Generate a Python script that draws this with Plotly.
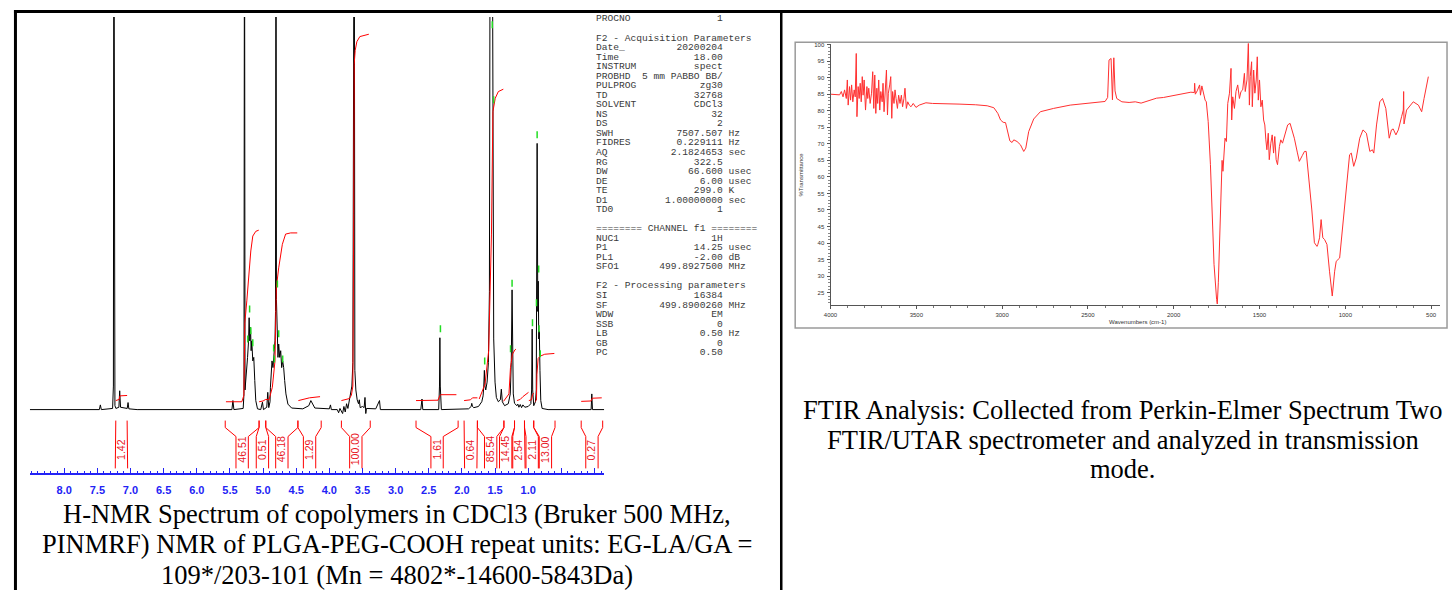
import plotly.graph_objects as go

W, H = 1452, 590

# ---------------- 1H NMR spectrum (ppm, relative intensity; 100 = top of frame) ----------------
nmr_ppm = [8.52, 7.47, 7.455, 7.44, 7.27, 7.258, 7.251, 7.245, 7.235, 7.22, 7.175, 7.163, 7.15,
           7.05, 7.037, 7.025, 6.9, 5.47, 5.455, 5.44, 5.30, 5.288, 5.28, 5.272, 5.262, 5.249,
           5.234, 5.219, 5.21, 5.2, 5.189, 5.18, 5.17, 5.155, 5.14, 5.125, 5.11, 5.084, 5.035,
           5.009, 4.994, 4.944, 4.929, 4.914, 4.895, 4.889, 4.88, 4.865, 4.85, 4.835, 4.82, 4.812,
           4.805, 4.798, 4.79, 4.775, 4.764, 4.749, 4.734, 4.719, 4.704, 4.689, 4.674, 4.655,
           4.625, 4.569, 4.40, 4.31, 4.279, 4.258, 4.219, 4.0, 3.983, 3.97, 3.88, 3.86, 3.84,
           3.80, 3.78, 3.76, 3.74, 3.72, 3.70, 3.68, 3.66, 3.645, 3.635, 3.625, 3.615, 3.60,
           3.58, 3.56, 3.548, 3.535, 3.50, 3.475, 3.462, 3.45, 3.44, 3.30, 3.243, 3.23, 2.62,
           2.602, 2.59, 2.35, 2.338, 2.332, 2.326, 2.31, 1.90, 1.86, 1.851, 1.84, 1.82, 1.75,
           1.70, 1.68, 1.67, 1.661, 1.652, 1.64, 1.62, 1.60, 1.585, 1.572, 1.545, 1.535, 1.52,
           1.50, 1.48, 1.45, 1.42, 1.405, 1.39, 1.356, 1.30, 1.27, 1.255, 1.243, 1.236, 1.225,
           1.206, 1.17, 1.156, 1.14, 1.12, 1.10, 1.08, 1.05, 1.00, 0.96, 0.948, 0.94, 0.932,
           0.916, 0.89, 0.878, 0.865, 0.855, 0.848, 0.84, 0.832, 0.822, 0.81, 0.79, 0.7, 0.05,
           0.04, 0.03, -0.15]
nmr_int = [0, 0, 1.2, 0, 0.3, 6, 150, 6, 1, 0.3, 0.6, 4.8, 0.6,
           0.3, 1.8, 0.2, 0, 0, 2.3, 0, 0.3, 4, 150, 5, 7, 9.1,
           13.3, 17.5, 23.4, 17.5, 20.9, 15, 17.5, 12.4, 13.3, 7.4, 2.3, 0.2, 0,
           1.9, 0, 0.6, 4.4, 0.5, 2, 5.7, 9.1, 12.4, 10.7, 15, 17.5, 25,
           150, 28, 19.2, 13.3, 16.7, 13.3, 15, 10.7, 12.4, 10.7, 7.4, 4,
           1.4, 0.4, 0.2, 1, 2.3, 1.7, 0.4, 0.2, 1.2, 0, 0, -0.8, 0.3,
           -1, 0.8, -0.6, 1.5, 0.3, 2.5, 3.5, 6, 12, 150, 150, 10, 5,
           2.5, 1.5, 2.5, 0.5, 0.8, 0.5, 3.1, -1, 0.3, 0.2, 2.3, 0, 0,
           2.7, 0, 0, 6, 18.3, 6, 0, 0.2, 0.8, 1.6, 0.8, 0.5, 0.8,
           2, 3.5, 6, 10, 6, 5, 7, 12, 30, 150, 150, 60, 18,
           7, 3.1, 2, 2.5, 5.2, 2, 1, 1.5, 4, 12, 30.5, 14, 4,
           1.6, 1, 1.4, 0.6, 1.3, 0.5, 1.2, 0.6, 0.8, 1.5, 5, 20.5, 5,
           1, 2, 5, 67.8, 25, 32.7, 18, 20, 9.9, 2.3, 0.3, 0, 0,
           4, 0, 0]

# peak-picking marks (green)
green_ppm = [5.203, 5.185, 5.23, 5.155, 4.84, 4.83, 4.764, 4.784, 4.704, 2.324, 1.656, 1.542,
             1.521, 1.243, 1.266, 0.935, 0.865, 0.842, 0.875, 0.836, 0.818]
green_int = [25.6, 20.1, 18.0, 17.0, 15.7, 12.9, 19.3, 32.0, 12.9, 20.6, 12.4, 98,
             78.9, 32.2, 15.5, 22.1, 70, 35.8, 27.2, 20.6, 14.2]

# integrals
integral_values = ["1.42", "46.51", "0.51", "46.18", "1.29", "100.00", "1.61", "0.64",
                   "85.54", "14.45", "2.54", "2.11", "13.00", "0.27"]
integral_from = [7.222, 5.571, 5.060, 4.959, 4.474, 3.818, 2.692, 1.967, 1.766, 1.366,
                 1.206, 1.056, 0.916, 0.200]
integral_to = [7.051, 5.060, 4.959, 4.474, 4.123, 3.383, 2.057, 1.766, 1.366, 1.206,
               1.056, 0.916, 0.595, -0.124]
integral_curve_ppm = [
    [7.222, 7.17, 7.16, 7.051],
    [5.56, 5.32, 5.29, 5.275, 5.245, 5.185, 5.155, 5.11, 5.065],
    [5.06, 5.0, 4.96],
    [4.96, 4.91, 4.86, 4.82, 4.80, 4.764, 4.709, 4.66, 4.584, 4.484],
    [4.467, 4.30, 4.14],
    [3.818, 3.70, 3.668, 3.645, 3.632, 3.625, 3.61, 3.585, 3.54, 3.404],
    [2.692, 2.36, 2.335, 2.32, 2.083],
    [1.967, 1.87, 1.84, 1.766],
    [1.739, 1.651, 1.596, 1.554, 1.532, 1.497, 1.45, 1.375],
    [1.372, 1.29, 1.267, 1.238, 1.20, 1.185],
    [1.17, 1.12, 1.08, 1.03, 0.995],
    [0.99, 0.95, 0.935, 0.916],
    [0.90, 0.875, 0.868, 0.862, 0.85, 0.82, 0.75, 0.605],
    [0.20, 0.05, 0.035, -0.11],
]
integral_curve_val = [
    [2.3, 2.6, 3.5, 3.6],
    [2.0, 2.0, 3.6, 22.1, 27.7, 40.4, 44.2, 45.4, 45.7],
    [2.0, 2.2, 2.6],
    [2.6, 2.5, 5.7, 12.4, 31, 36.1, 42.1, 44.7, 45, 45],
    [2.3, 3.0, 3.3],
    [2.3, 2.8, 3.6, 6, 50, 88, 91.5, 93.7, 95, 95.6],
    [2.3, 2.4, 3.5, 3.8, 3.8],
    [2.3, 2.5, 3.0, 3.0],
    [2.7, 6.5, 15, 44.7, 75.9, 79.3, 81, 81.6],
    [2.1, 4, 10.7, 14.1, 15.2, 15.4],
    [2.3, 2.6, 3.3, 4.1, 4.4],
    [2.3, 2.5, 3.8, 4.2],
    [2.0, 2.4, 9, 12, 13, 13.6, 14.1, 14.3],
    [2.1, 2.2, 2.9, 3.0],
]

nmr_tick_vals = [8.0, 7.5, 7.0, 6.5, 6.0, 5.5, 5.0, 4.5, 4.0, 3.5, 3.0, 2.5, 2.0, 1.5, 1.0, 0.5, 0.0]
nmr_tick_text = ["8.0", "7.5", "7.0", "6.5", "6.0", "5.5", "5.0", "4.5", "4.0", "3.5", "3.0",
                 "2.5", "2.0", "1.5", "1.0", "", ""]

# acquisition / processing parameter block
param_lines = [
    ("PROCNO", "1", ""), None,
    ("F2 - Acquisition Parameters",), ("Date_", "20200204", ""), ("Time", "18.00", ""),
    ("INSTRUM", "spect", ""), ("PROBHD", "5 mm PABBO BB/", ""), ("PULPROG", "zg30", ""),
    ("TD", "32768", ""), ("SOLVENT", "CDCl3", ""), ("NS", "32", ""), ("DS", "2", ""),
    ("SWH", "7507.507", "Hz"), ("FIDRES", "0.229111", "Hz"), ("AQ", "2.1824653", "sec"),
    ("RG", "322.5", ""), ("DW", "66.600", "usec"), ("DE", "6.00", "usec"),
    ("TE", "299.0", "K"), ("D1", "1.00000000", "sec"), ("TD0", "1", ""), None,
    ("======== CHANNEL f1 ========",), ("NUC1", "1H", ""), ("P1", "14.25", "usec"),
    ("PL1", "-2.00", "dB"), ("SFO1", "499.8927500", "MHz"), None,
    ("F2 - Processing parameters",), ("SI", "16384", ""), ("SF", "499.8900260", "MHz"),
    ("WDW", "EM", ""), ("SSB", "0", ""), ("LB", "0.50", "Hz"), ("GB", "0", ""), ("PC", "0.50", ""),
]

# ---------------- FTIR spectrum (wavenumber cm-1, %T) ----------------
ftir_wn = [4000, 3966, 3947, 3937, 3927, 3918, 3908, 3902, 3897, 3889, 3883, 3877, 3870, 3862,
           3856, 3850, 3846, 3839, 3833, 3827, 3821, 3815, 3810, 3804, 3796, 3788, 3783, 3777,
           3769, 3761, 3754, 3748, 3742, 3736, 3730, 3725, 3719, 3713, 3707, 3699, 3694, 3688,
           3682, 3674, 3668, 3663, 3655, 3649, 3643, 3638, 3630, 3624, 3618, 3610, 3603, 3595,
           3587, 3580, 3572, 3566, 3558, 3550, 3541, 3531, 3518, 3502, 3483, 3464, 3444, 3406,
           3348, 3251, 3154, 3087, 3048, 3025, 3009, 2994, 2980, 2971, 2955, 2942, 2932, 2913,
           2893, 2874, 2862, 2845, 2816, 2777, 2700, 2603, 2420, 2400, 2385, 2377, 2365, 2357,
           2349, 2342, 2332, 2302, 2260, 2224, 2190, 2176, 2150, 2127, 2100, 2060, 2029, 2000,
           1960, 1931, 1900, 1880, 1878, 1874, 1863, 1849, 1844, 1836, 1824, 1817, 1810, 1799,
           1786, 1765, 1750, 1746, 1740, 1732, 1721, 1718, 1713, 1706, 1701, 1693, 1687, 1685,
           1675, 1666, 1662, 1656, 1646, 1637, 1627, 1617, 1608, 1598, 1588, 1583, 1573, 1565,
           1559, 1554, 1546, 1542, 1534, 1527, 1519, 1513, 1507, 1500, 1492, 1484, 1476, 1469,
           1463, 1457, 1449, 1443, 1434, 1426, 1418, 1411, 1403, 1395, 1384, 1376, 1366, 1350,
           1336, 1322, 1310, 1297, 1280, 1268, 1250, 1238, 1228, 1209, 1195, 1180, 1165, 1160,
           1150, 1141, 1131, 1121, 1107, 1092, 1076, 1062, 1053, 1033, 1018, 998, 975, 965, 951,
           936, 916, 897, 877, 857, 842, 834, 818, 799, 783, 764, 744, 731, 721, 705, 691, 672,
           662, 660, 658, 643, 604, 574, 555, 541, 516]
ftir_t = [85, 85, 84.8, 85.8, 84.2, 86.3, 83.7, 89.3, 81.7, 87.3, 83.2, 87.8, 82.7, 86.3,
          84.2, 97.3, 78.2, 87.3, 83.7, 88.3, 82.7, 90.3, 84.7, 89.3, 80.2, 87.3, 83.7, 86.8,
          82.2, 85.3, 91.8, 80.7, 90.8, 79.2, 86.8, 82.2, 89.3, 80.2, 85.8, 82.7, 88.3, 79.7,
          86.3, 92.3, 78.7, 85.3, 87.8, 90.3, 77.7, 85.8, 82.2, 86.3, 83.7, 80.7, 84.7, 82.2,
          84.7, 81.2, 83.7, 86.8, 80.7, 82.7, 81.7, 81.2, 82.2, 81, 81.7, 82, 82.4, 82.2,
          82.2, 82, 81.8, 81.5, 80.9, 79.2, 77.2, 76.5, 76.4, 74.7, 70.9, 70.4, 71.2, 70.7,
          69.7, 67.7, 68.7, 73.7, 77.5, 79.7, 80.7, 81.7, 82.5, 82.8, 84, 95.3, 95.8, 83.3,
          96, 86, 83.7, 82.7, 82.5, 82.7, 82.3, 82.5, 83, 83.2, 83.8, 84, 84.3, 84.6,
          85, 85.3, 85.6, 85.5, 88.3, 85, 86, 87.8, 84.7, 87.5, 84.2, 83.2, 82.7, 76.7,
          63.7, 33.6, 23, 21.6, 28, 43.6, 60.7, 65, 61.7, 70.5, 71.7, 70.7, 80.7, 82.2,
          85.3, 92.8, 77.2, 84.2, 80.7, 85.8, 87.8, 83.7, 85.8, 86.3, 91.3, 85.8, 89.3, 100.5,
          81.7, 90.3, 94.8, 81.2, 92.3, 85.3, 89.3, 96.3, 83.2, 89.3, 81.2, 83.2, 77.2, 75.7,
          71.2, 68.2, 73.2, 65.2, 70.2, 72.7, 67.2, 72.2, 65.2, 63.7, 69.2, 71.2, 70.2, 73,
          75.7, 76.2, 74, 71.7, 67.5, 64.7, 66.5, 67.7, 67.7, 58.6, 50, 40.1, 39, 39.6,
          41.6, 47.1, 41.6, 41.1, 39.6, 31.5, 24, 31.5, 34.5, 35.5, 43.6, 55.6, 66.7, 67.2, 63.2,
          65.7, 71.7, 74.2, 73.2, 67.7, 68.2, 67.2, 75.7, 82.7, 83.7, 80.7, 71.7, 74.2, 74.5, 72.7, 74.2, 78.2,
          80.2, 85.8, 76, 80.2, 82.7, 81.7, 79.7, 83.7, 90.3]
ftir_y_ticks = [25, 30, 35, 40, 45, 50, 55, 60, 65, 70, 75, 80, 85, 90, 95, 100]
ftir_x_ticks = [4000, 3500, 3000, 2500, 2000, 1500, 1000, 500]

nmr_caption = ["H-NMR Spectrum of copolymers in CDCl3 (Bruker 500 MHz,",
               "PINMRF) NMR of PLGA-PEG-COOH repeat units: EG-LA/GA =",
               "109*/203-101 (Mn = 4802*-14600-5843Da)"]
ftir_caption = ["FTIR Analysis: Collected from Perkin-Elmer Spectrum Two",
                "FTIR/UTAR spectrometer and analyzed in transmission",
                "mode."]


# ---------------- layout helpers ----------------
def px(x):
    return x / W


def py(y):
    return 1 - y / H


PPM_PER_PX = 1 / 66.6
NMR_Y_PER_PX = 100 / 394.0


def nmr_y(ypx):
    # pixel row -> intensity units (baseline row 409)
    return (409 - ypx) * NMR_Y_PER_PX


fig = go.Figure()

RED = "#ff0000"
BLUE = "#2323f5"

# NMR spectrum
fig.add_trace(go.Scatter(x=nmr_ppm, y=nmr_int, mode="lines",
                         line=dict(color="black", width=1), xaxis="x", yaxis="y",
                         hoverinfo="skip", showlegend=False))

# integral curves
ix, iy = [], []
for cp, cv in zip(integral_curve_ppm, integral_curve_val):
    ix += cp + [None]
    iy += cv + [None]
fig.add_trace(go.Scatter(x=ix, y=iy, mode="lines", line=dict(color=RED, width=1),
                         xaxis="x", yaxis="y", hoverinfo="skip", showlegend=False))

# green peak marks
fig.add_trace(go.Scatter(x=green_ppm, y=green_int, mode="markers",
                         marker=dict(symbol="line-ns", size=5, line=dict(color="#22dd22", width=1.5)),
                         xaxis="x", yaxis="y", hoverinfo="skip", showlegend=False))

# integral label positions (spread apart where crowded)
centers = [(a + b) / 2 for a, b in zip(integral_from, integral_to)]
min_sep = 13.3 * PPM_PER_PX
for _ in range(200):
    for i in range(len(centers) - 1):
        d = centers[i] - centers[i + 1]
        if d < min_sep:
            s = (min_sep - d) / 2
            centers[i] += s
            centers[i + 1] -= s

hw = 6.2 * PPM_PER_PX
y_top, y_k1, y_k2, y_bot = nmr_y(420), nmr_y(427), nmr_y(436), nmr_y(468)
bx, by = [], []
for a, b, c in zip(integral_from, integral_to, centers):
    bx += [a, a, c + hw, c + hw, None, b, b, c - hw, c - hw, None]
    by += [y_top, y_k1, y_k2, y_bot, None, y_top, y_k1, y_k2, y_bot, None]
fig.add_trace(go.Scatter(x=bx, y=by, mode="lines", line=dict(color=RED, width=1),
                         xaxis="x", yaxis="y", hoverinfo="skip", showlegend=False))

annotations = []
for val, c in zip(integral_values, centers):
    annotations.append(dict(x=c, y=nmr_y(449), xref="x", yref="y", text=val, showarrow=False,
                            textangle=-90, font=dict(family="Arial", size=10.5, color="#e8141e"),
                            xanchor="center", yanchor="middle"))

annotations.append(dict(x=0.08, y=nmr_y(492), xref="x", yref="y", text="ppm", showarrow=False,
                        font=dict(family="Arial", size=11, color=BLUE, weight="bold"),
                        xanchor="center", yanchor="middle"))

# FTIR spectrum
fig.add_trace(go.Scatter(x=ftir_wn, y=ftir_t, mode="lines", line=dict(color="#ff3030", width=1),
                         xaxis="x2", yaxis="y2", hoverinfo="skip", showlegend=False))

# parameter block
for i, item in enumerate(param_lines):
    if item is None:
        continue
    if len(item) == 1:
        txt = item[0]
    else:
        name, value, unit = item
        txt = name.ljust(8) + value.rjust(14) + ((" " + unit) if unit else "")
    annotations.append(dict(x=px(590), y=py(17 + i * 9.57), xref="paper", yref="paper",
                            text=txt.replace(" ", "&nbsp;"), showarrow=False, xanchor="left",
                            yanchor="middle", font=dict(family="Liberation Mono", size=9.6, color="#3a3a3a")))

# captions
nmr_caption_rows = [513.5, 544, 574.5]
for line, row in zip(nmr_caption, nmr_caption_rows):
    annotations.append(dict(x=px(392), y=py(row), xref="paper", yref="paper", text=line,
                            showarrow=False, xanchor="center", yanchor="middle", borderpad=0,
                            font=dict(family="Liberation Serif", size=26.5, color="black")))
for i, line in enumerate(ftir_caption):
    annotations.append(dict(x=px(1121), y=py(409 + i * 30), xref="paper", yref="paper", text=line,
                            showarrow=False, xanchor="center", yanchor="middle", borderpad=0,
                            font=dict(family="Liberation Serif", size=26.5, color="black")))

# FTIR axis titles
annotations.append(dict(x=px(798), y=py(173), xref="paper", yref="paper", text="%Transmittance",
                        showarrow=False, textangle=-90, font=dict(family="Arial", size=6, color="#333"),
                        xanchor="center", yanchor="middle"))
annotations.append(dict(x=px(1136), y=py(321), xref="paper", yref="paper", text="Wavenumbers (cm-1)",
                        showarrow=False, font=dict(family="Arial", size=6, color="#333"),
                        xanchor="center", yanchor="middle"))

shapes = [
    # table borders
    dict(type="line", xref="paper", yref="paper", x0=px(7), x1=px(1452), y0=py(9.5), y1=py(9.5),
         line=dict(color="black", width=3)),
    dict(type="line", xref="paper", yref="paper", x0=px(8.5), x1=px(8.5), y0=py(8), y1=py(592),
         line=dict(color="black", width=3)),
    dict(type="line", xref="paper", yref="paper", x0=px(778), x1=px(778), y0=py(8), y1=py(592),
         line=dict(color="black", width=2.5)),
    # FTIR outer frame
    dict(type="rect", xref="paper", yref="paper", x0=px(792), x1=px(1447), y0=py(327), y1=py(40.5),
         line=dict(color="#9a9a9a", width=1.5)),
]

fig.update_layout(
    width=W, height=H, autosize=False,
    margin=dict(l=0, r=0, t=0, b=0),
    paper_bgcolor="white", plot_bgcolor="rgba(0,0,0,0)",
    showlegend=False,
    annotations=annotations, shapes=shapes,
    xaxis=dict(domain=[px(23), px(600)], range=[8.518, -0.1456], anchor="y",
               showline=True, linecolor=BLUE, linewidth=1.5, showgrid=False, zeroline=False,
               tickmode="array", tickvals=nmr_tick_vals, ticktext=nmr_tick_text,
               ticks="inside", ticklen=6, tickwidth=1.2, tickcolor=BLUE,
               minor=dict(dtick=0.1, ticks="inside", ticklen=3, tickcolor=BLUE, tickwidth=1),
               tickfont=dict(family="Arial", size=11, color=BLUE, weight="bold"),
               ticklabelstandoff=6),
    yaxis=dict(domain=[py(473), py(15)], range=[nmr_y(473), 100], anchor="x", visible=False),
    xaxis2=dict(domain=[px(827.5), px(1440)], range=[4000, 447.8], anchor="y2",
                showline=True, linecolor="#555", linewidth=1, showgrid=False, zeroline=False,
                tickmode="array", tickvals=ftir_x_ticks, ticks="outside", ticklen=3, tickcolor="#555",
                minor=dict(dtick=100, ticks="outside", ticklen=2, tickcolor="#777"),
                tickfont=dict(family="Arial", size=6, color="#333"), ticklabelstandoff=1),
    yaxis2=dict(domain=[py(304), py(41.7)], range=[21.3, 100.3], anchor="x2",
                showline=True, linecolor="#555", linewidth=1, showgrid=False, zeroline=False,
                tickmode="array", tickvals=ftir_y_ticks, ticks="outside", ticklen=3, tickcolor="#555",
                minor=dict(dtick=1, ticks="outside", ticklen=1.5, tickcolor="#888"),
                tickfont=dict(family="Arial", size=6, color="#333"), ticklabelstandoff=1),
)

fig.write_html("out.html", config={"displayModeBar": False},
               post_script="document.body.style.margin='0';document.body.style.overflow='hidden';")
